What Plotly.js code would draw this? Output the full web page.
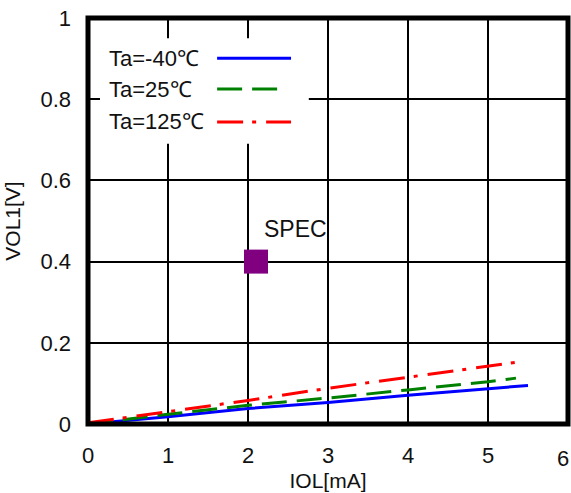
<!DOCTYPE html>
<html><head><meta charset="utf-8">
<script src="https://cdn.plot.ly/plotly-3.0.1.min.js"></script>
<style>html,body{margin:0;padding:0;background:#fff}#c{width:571px;height:493px}</style>
</head><body><div id="c"></div>
<script>
const seriesNames = ["Ta=-40℃", "Ta=25℃", "Ta=125℃"];
const seriesColors = ["#0000ff", "#008000", "#ff0000"];
const seriesDash = ["solid", "25px,10px", "26px,9px,4px,10px"];
const xBlue = [0, 1, 2, 3, 4, 5, 5.5];
const yBlue = [0, 0.018, 0.038, 0.053, 0.071, 0.086, 0.095];
const xGreen = [0, 1, 2, 3, 4, 5, 5.35];
const yGreen = [0, 0.024, 0.046, 0.064, 0.084, 0.104, 0.113];
const xRed = [0, 1, 2, 3, 4, 5, 5.35];
const yRed = [0.003, 0.03, 0.058, 0.088, 0.115, 0.141, 0.152];
const specX = [2.1];
const specY = [0.4];
const specLabel = "SPEC";
const xTicks = [0, 1, 2, 3, 4, 5, 6];
const yTicks = [0, 0.2, 0.4, 0.6, 0.8, 1];
const yTickText = ["0", "0.2", "0.4", "0.6", "0.8", "1"];

const xs = [xBlue, xGreen, xRed], ys = [yBlue, yGreen, yRed];
const traces = xs.map((x, i) => ({
  x: x, y: ys[i], mode: "lines", name: seriesNames[i], showlegend: false,
  line: {color: seriesColors[i], width: 3, dash: seriesDash[i]}
}));
traces.push({x: specX, y: specY, mode: "markers", showlegend: false,
  marker: {symbol: "square", size: 24, color: "#800080"}});

const fam = "Liberation Sans, Arial, sans-serif";
const tickFont = {family: fam, size: 22, color: "#111"};
const titleFont = {family: fam, size: 21, color: "#111"};
const legFont = {family: fam, size: 22, color: "#111"};
const specFont = {family: fam, size: 23, color: "#111"};
const legY = [0.901, 0.825, 0.744];
const legX1 = [0.423, 0.396, 0.423];
const shapes = [
  {type: "rect", xref: "paper", yref: "paper", x0: 0.025, x1: 0.46, y0: 0.69, y1: 0.95,
   fillcolor: "#fff", line: {width: 0}, layer: "above"},
  {type: "rect", xref: "paper", yref: "paper", x0: 0, x1: 1, y0: 0, y1: 1,
   line: {color: "#000", width: 5}, layer: "above"}
];
const annotations = [{x: 2.17, y: 0.48, xref: "x", yref: "y", text: specLabel, showarrow: false,
  xanchor: "left", yanchor: "middle", font: specFont}];
seriesNames.forEach((n, i) => {
  annotations.push({x: 0.04, y: legY[i], xref: "paper", yref: "paper", text: n, showarrow: false,
    xanchor: "left", yanchor: "middle", font: legFont});
  shapes.push({type: "line", xref: "paper", yref: "paper", x0: 0.269, x1: legX1[i], y0: legY[i], y1: legY[i],
    line: {color: seriesColors[i], width: 3, dash: seriesDash[i]}, layer: "above"});
});
// last x tick label placed flush with the right edge so it is not cut off
const lastTick = xTicks[xTicks.length - 1];
annotations.push({x: lastTick, y: 0, xref: "x", yref: "paper", text: String(lastTick), showarrow: false,
  xanchor: "right", yanchor: "top", xshift: 3, yshift: -20, font: tickFont});

const layout = {
  width: 571, height: 493,
  margin: {l: 88, r: 3, t: 18, b: 69},
  paper_bgcolor: "#fff", plot_bgcolor: "#fff",
  font: tickFont,
  xaxis: {range: [0, 6], tickvals: xTicks, ticktext: xTicks.map((v, i) => i === xTicks.length - 1 ? "" : String(v)),
    showgrid: true, gridcolor: "#000", gridwidth: 2,
    zeroline: false, showline: false, ticks: "", ticklabelstandoff: 16,
    fixedrange: true, tickfont: tickFont,
    title: {text: "IOL[mA]", font: titleFont, standoff: 6}},
  yaxis: {range: [0, 1], tickvals: yTicks, ticktext: yTickText, showgrid: true, gridcolor: "#000", gridwidth: 2,
    zeroline: false, showline: false, ticks: "", ticklabelstandoff: 16, ticklabeloverflow: "allow",
    fixedrange: true, tickfont: tickFont,
    title: {text: "VOL1[V]", font: titleFont, standoff: 14}},
  shapes: shapes,
  annotations: annotations
};
Plotly.newPlot("c", traces, layout, {displayModeBar: false, staticPlot: true});
</script></body></html>
